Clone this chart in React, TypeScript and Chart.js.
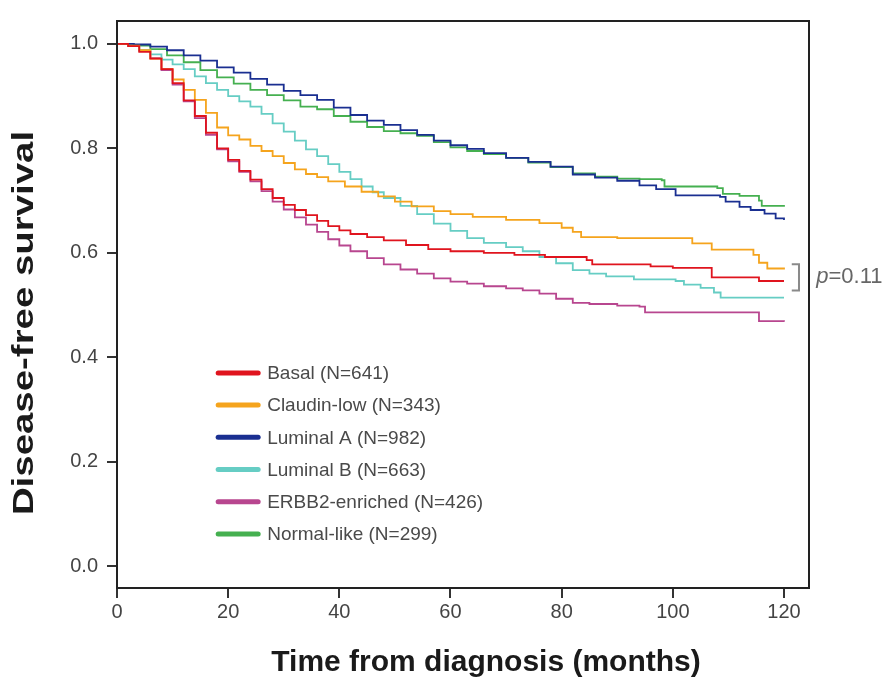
import React, { useEffect, useRef } from 'react';
import { Chart, registerables } from 'chart.js';

Chart.register(...registerables);

const xTicks = [0, 20, 40, 60, 80, 100, 120];
const yTicks = [0, 0.2, 0.4, 0.6, 0.8, 1.0];
const xTitle = 'Time from diagnosis (months)';
const yTitle = 'Disease-free survival';
const pText = '=0.11';

const seriesLabels = [
  'Basal (N=641)',
  'Claudin-low (N=343)',
  'Luminal A (N=982)',
  'Luminal B (N=663)',
  'ERBB2-enriched (N=426)',
  'Normal-like (N=299)',
];
const seriesColors = ['#e0141e', '#f5a41d', '#1a2f91', '#66cdc4', '#b8468f', '#45b050'];

const basalT = [0, 2, 4, 6, 8, 10, 12, 14, 16, 18, 20, 22, 24, 26, 28, 30, 32, 34, 36, 38, 40, 42, 45, 48, 52, 56, 60, 66, 71.5, 77, 84.5, 85.5, 96, 100, 107, 115.5, 120];
const basalS = [1.0, 0.996, 0.985, 0.972, 0.952, 0.925, 0.892, 0.862, 0.83, 0.8, 0.778, 0.757, 0.74, 0.722, 0.705, 0.692, 0.682, 0.672, 0.661, 0.651, 0.643, 0.636, 0.63, 0.624, 0.615, 0.607, 0.603, 0.6, 0.596, 0.592, 0.586, 0.578, 0.574, 0.571, 0.553, 0.546, 0.546];

const claudinT = [0, 2, 4, 6, 8, 10, 12, 14, 16, 18, 20, 22, 24, 26, 28, 30, 32, 34, 36, 38, 41, 44, 47, 50, 53, 57, 60, 64, 70, 76, 80, 82, 83.5, 90, 102.5, 103.5, 107, 114, 114.5, 115.5, 117, 120];
const claudinS = [1.0, 0.997, 0.988, 0.972, 0.952, 0.932, 0.912, 0.893, 0.868, 0.84, 0.825, 0.817, 0.805, 0.795, 0.785, 0.772, 0.76, 0.751, 0.745, 0.737, 0.727, 0.717, 0.708, 0.698, 0.689, 0.68, 0.674, 0.669, 0.663, 0.657, 0.648, 0.64, 0.63, 0.628, 0.628, 0.618, 0.606, 0.606, 0.596, 0.581, 0.57, 0.568];

const lumAT = [0, 3, 6, 9, 12, 15, 18, 21, 24, 27, 30, 33, 36, 39, 42, 45, 48, 51, 54, 57, 60, 63, 66, 70, 74, 78, 82, 86, 90, 94, 97, 100.5, 108.5, 109.5, 112, 114, 116.5, 118.5, 120];
const lumAS = [1.0, 0.999, 0.995, 0.988, 0.978, 0.968, 0.955, 0.945, 0.933, 0.922, 0.91, 0.902, 0.893, 0.878, 0.864, 0.853, 0.845, 0.835, 0.826, 0.815, 0.806, 0.799, 0.791, 0.782, 0.774, 0.765, 0.75, 0.744, 0.738, 0.729, 0.722, 0.71, 0.707, 0.698, 0.688, 0.682, 0.675, 0.666, 0.663];

const lumBT = [0, 2, 4, 6, 8, 10, 12, 14, 16, 18, 20, 22, 24, 26, 28, 30, 32, 34, 36, 38, 40, 42, 44, 46, 48, 51, 54, 57, 60, 63, 66, 70, 73, 76, 79, 82, 85, 88, 93, 100.5, 102, 105, 107.4, 108.6, 120];
const lumBS = [1.0, 0.996, 0.988, 0.98, 0.97, 0.961, 0.952, 0.938, 0.925, 0.912, 0.9, 0.89, 0.88, 0.866, 0.848, 0.832, 0.815, 0.798, 0.785, 0.77, 0.755, 0.741, 0.727, 0.716, 0.705, 0.69, 0.674, 0.656, 0.642, 0.628, 0.619, 0.611, 0.603, 0.592, 0.58, 0.567, 0.56, 0.555, 0.549, 0.546, 0.539, 0.533, 0.524, 0.514, 0.514];

const erbbT = [0, 2, 4, 6, 8, 10, 12, 14, 16, 18, 20, 22, 24, 26, 28, 30, 32, 34, 36, 38, 40, 42, 45, 48, 51, 54, 57, 60, 63, 66, 70, 73, 76, 79, 82, 85, 90, 94, 95, 115, 115.5, 120];
const erbbS = [1.0, 0.997, 0.987, 0.973, 0.95, 0.922, 0.89, 0.858, 0.826, 0.798, 0.775, 0.755, 0.737, 0.718, 0.698, 0.683, 0.668, 0.654, 0.64, 0.626, 0.614, 0.603, 0.59, 0.578, 0.568, 0.56, 0.551, 0.545, 0.541, 0.536, 0.532, 0.528, 0.522, 0.512, 0.504, 0.502, 0.499, 0.497, 0.486, 0.486, 0.469, 0.468];

const normalT = [0, 3, 6, 9, 12, 15, 18, 21, 24, 27, 30, 33, 36, 39, 42, 45, 48, 51, 54, 57, 60, 63, 66, 70, 74, 78, 82, 86, 90, 94, 98, 98.5, 108, 109, 112, 115.5, 116, 120];
const normalS = [1.0, 0.997, 0.99, 0.978, 0.965, 0.95, 0.936, 0.924, 0.912, 0.902, 0.892, 0.88, 0.875, 0.862, 0.851, 0.841, 0.833, 0.829, 0.824, 0.812, 0.802, 0.795, 0.789, 0.782, 0.773, 0.764, 0.752, 0.746, 0.742, 0.741, 0.739, 0.727, 0.724, 0.713, 0.709, 0.7, 0.69, 0.688];

const seriesTimes = [basalT, claudinT, lumAT, lumBT, erbbT, normalT];
const seriesValues = [basalS, claudinS, lumAS, lumBS, erbbS, normalS];

const TITLE_FONT = 'bold 30px "Liberation Sans", Arial, sans-serif';
const TEXT_FONT = '"Liberation Sans", Arial, sans-serif';

const decorPlugin = {
  id: 'decor',
  afterDraw(chart: any) {
    const { ctx, chartArea, scales } = chart;
    const xs = scales.x;
    const ys = scales.y;
    ctx.save();
    // frame
    ctx.strokeStyle = '#222';
    ctx.lineWidth = 2;
    ctx.strokeRect(chartArea.left, chartArea.top, chartArea.right - chartArea.left, chartArea.bottom - chartArea.top);

    // legend
    const lx = xs.getPixelForValue(18.2);
    const ly0 = ys.getPixelForValue(0.37);
    const rowH = 32.2;
    ctx.font = '19px ' + TEXT_FONT;
    ctx.textBaseline = 'middle';
    ctx.textAlign = 'left';
    chart.data.datasets.forEach((ds: any, i: number) => {
      const y = ly0 + i * rowH;
      ctx.strokeStyle = ds.borderColor;
      ctx.lineWidth = 5;
      ctx.lineCap = 'round';
      ctx.beginPath();
      ctx.moveTo(lx, y);
      ctx.lineTo(lx + 40, y);
      ctx.stroke();
      ctx.fillStyle = '#4a4a4a';
      ctx.fillText(ds.label, lx + 49, y + 1);
    });

    // bracket
    const bx1 = xs.getPixelForValue(121.4);
    const bx2 = xs.getPixelForValue(122.7);
    const by1 = ys.getPixelForValue(0.578);
    const by2 = ys.getPixelForValue(0.528);
    ctx.strokeStyle = '#8a8a8a';
    ctx.lineWidth = 2;
    ctx.lineCap = 'butt';
    ctx.beginPath();
    ctx.moveTo(bx1, by1);
    ctx.lineTo(bx2, by1);
    ctx.lineTo(bx2, by2);
    ctx.lineTo(bx1, by2);
    ctx.stroke();

    // p value
    const px = xs.getPixelForValue(125.8);
    const py = (by1 + by2) / 2;
    ctx.fillStyle = '#666';
    ctx.font = 'italic 22px ' + TEXT_FONT;
    ctx.textBaseline = 'middle';
    ctx.fillText('p', px, py);
    const pw = ctx.measureText('p').width;
    ctx.font = '22px ' + TEXT_FONT;
    ctx.fillText(pText, px + pw, py);

    // axis titles
    ctx.fillStyle = '#1a1a1a';
    ctx.font = TITLE_FONT;
    ctx.textAlign = 'center';
    ctx.textBaseline = 'middle';
    ctx.fillText(xTitle, 486, 663);
    ctx.save();
    ctx.translate(25, 323);
    ctx.rotate(-Math.PI / 2);
    ctx.scale(1.28, 1);
    ctx.fillText(yTitle, 0, 0);
    ctx.restore();
    ctx.restore();
  },
};

export default function App() {
  const ref = useRef<HTMLCanvasElement | null>(null);
  useEffect(() => {
    document.body.style.margin = '0';
    if (!ref.current) return;
    const datasets = seriesLabels.map((label, i) => ({
      label,
      data: seriesTimes[i].map((t, j) => ({ x: t, y: seriesValues[i][j] })),
      borderColor: seriesColors[i],
      backgroundColor: seriesColors[i],
      borderWidth: 1.8,
      pointRadius: 0,
      stepped: 'before' as const,
      tension: 0,
      fill: false,
    }));
    const chart = new Chart(ref.current, {
      type: 'line',
      data: { datasets },
      options: {
        animation: false,
        responsive: false,
        maintainAspectRatio: false,
        layout: { padding: { top: 16, right: 78, left: 0, bottom: 0 } },
        plugins: { legend: { display: false }, tooltip: { enabled: false } },
        scales: {
          x: {
            type: 'linear',
            min: 0,
            max: 124.5,
            afterBuildTicks: (s: any) => {
              s.ticks = xTicks.map((v) => ({ value: v }));
            },
            afterFit: (s: any) => {
              s.height = 94;
            },
            grid: { drawOnChartArea: false, drawTicks: true, tickLength: 10, color: '#333', lineWidth: 2 },
            border: { display: true, color: '#222', width: 2 },
            ticks: {
              font: { family: TEXT_FONT, size: 20 },
              color: '#444',
              padding: 2,
              maxRotation: 0,
              callback: (v: any) => String(v),
            },
          },
          y: {
            type: 'linear',
            min: -0.042,
            max: 1.044,
            afterBuildTicks: (s: any) => {
              s.ticks = yTicks.map((v) => ({ value: v }));
            },
            afterFit: (s: any) => {
              s.width = 117;
            },
            grid: { drawOnChartArea: false, drawTicks: true, tickLength: 10, color: '#333', lineWidth: 2 },
            border: { display: true, color: '#222', width: 2 },
            ticks: {
              font: { family: TEXT_FONT, size: 20 },
              color: '#444',
              padding: 9,
              callback: (v: any) => Number(v).toFixed(1),
            },
          },
        },
      },
      plugins: [decorPlugin],
    });
    return () => chart.destroy();
  }, []);
  return (
    <div style={{ width: 887, height: 682, background: '#fff' }}>
      <canvas ref={ref} width={887} height={682} style={{ display: 'block', width: 887, height: 682 }} />
    </div>
  );
}
